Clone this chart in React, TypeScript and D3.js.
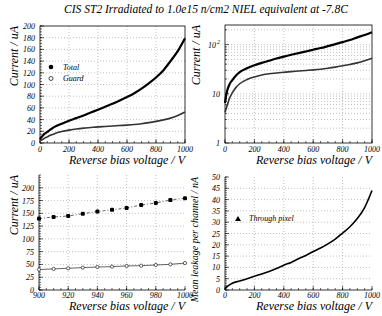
import React from "react";
import * as d3 from "d3";

const TITLE = "CIS ST2 Irradiated to 1.0e15 n/cm2 NIEL equivalent at -7.8C";
const X_TITLE = "Reverse bias voltage / V";

// Full-range scan
const voltages = [0, 10, 20, 30, 50, 75, 100, 150, 200, 250, 300, 350, 400, 450, 500, 550, 600, 650, 700, 750, 800, 850, 900, 950, 1000];
const totalCurrent = [6.5, 10, 13, 15.5, 19, 23.5, 27.5, 33, 38, 42.5, 47, 52, 57, 62, 67, 72.5, 78.5, 85, 93, 102, 112, 124, 140, 157, 179];
const guardCurrent = [4.2, 5.2, 6.5, 8, 10.5, 13.5, 16, 19.5, 22, 24, 25.5, 26.5, 27.5, 28.2, 29, 29.8, 30.6, 31.6, 33, 34.8, 37, 39.5, 42.5, 47, 53];

// Zoom 900-1000 V
const zoomVoltages = [900, 910, 920, 930, 940, 950, 960, 970, 980, 990, 1000];
const zoomTotal = [139.7, 142.9, 144.8, 149.2, 153.7, 156.8, 160.6, 166.3, 170.2, 175.9, 179.7];
const zoomGuard = [40, 41.3, 42.5, 43.8, 45, 45.7, 47, 47.6, 48.9, 50.2, 52.7];

// Mean leakage per channel (nA)
const pixelVoltages = [0, 25, 50, 100, 150, 200, 250, 300, 350, 400, 450, 500, 550, 600, 650, 700, 750, 800, 850, 900, 950, 1000];
const pixelLeakage = [0.5, 2, 3, 4, 5, 6.1, 7.1, 8.2, 9.5, 11, 12.2, 13.8, 15.3, 17, 18.6, 20.4, 22.5, 25.2, 28, 31.6, 36.5, 44];

const ticksFull = [0, 200, 400, 600, 800, 1000];
const ticksZoom = [900, 920, 940, 960, 980, 1000];
const yTicks1 = [0, 20, 40, 60, 80, 100, 120, 140, 160, 180, 200];
const yTicks3 = [0, 25, 50, 75, 100, 125, 150, 175, 200];
const yTicks4 = [0, 5, 10, 15, 20, 25, 30, 35, 40, 45, 50];

const FONT = "'Liberation Serif', 'DejaVu Serif', serif";
const GRID = "#999";

type Box = { x0: number; x1: number; y0: number; y1: number };

function Frame({ b, full }: { b: Box; full: boolean }) {
  return full ? (
    <rect x={b.x0} y={b.y0} width={b.x1 - b.x0} height={b.y1 - b.y0} fill="none" stroke="#000" strokeWidth={0.8} />
  ) : (
    <path d={`M${b.x0},${b.y0}V${b.y1}H${b.x1}`} fill="none" stroke="#000" strokeWidth={0.8} />
  );
}

function XAxis({ b, x, ticks, minor, labelDy, titleDy }: { b: Box; x: any; ticks: number[]; minor: number[]; labelDy: number; titleDy: number }) {
  return (
    <g>
      {ticks.slice(1, -1).map((t) => (
        <line key={"g" + t} x1={x(t)} x2={x(t)} y1={b.y0} y2={b.y1} stroke={GRID} strokeWidth={0.6} strokeDasharray="1,2" />
      ))}
      {minor.map((t) => (
        <line key={"m" + t} x1={x(t)} x2={x(t)} y1={b.y1} y2={b.y1 - 2} stroke="#000" strokeWidth={0.6} />
      ))}
      {ticks.map((t) => (
        <line key={"t" + t} x1={x(t)} x2={x(t)} y1={b.y1} y2={b.y1 - 4} stroke="#000" strokeWidth={0.6} />
      ))}
      {ticks.map((t) => (
        <text key={"l" + t} x={x(t)} y={b.y1 + labelDy} fontSize={8} fontStyle="italic" fontFamily={FONT} textAnchor="middle">
          {t}
        </text>
      ))}
      <text x={b.x1} y={b.y1 + titleDy} fontSize={12} fontStyle="italic" fontFamily={FONT} textAnchor="end">
        {X_TITLE}
      </text>
    </g>
  );
}

function YAxisLin({ b, y, ticks, minorStep, title, titleX, titleSize }: { b: Box; y: any; ticks: number[]; minorStep: number; title: string; titleX: number; titleSize: number }) {
  const dom = y.domain();
  const minor = d3.range(dom[0], dom[1] + 1e-9, minorStep);
  return (
    <g>
      {ticks.filter((t) => t > dom[0] && t < dom[1]).map((t) => (
        <line key={"g" + t} x1={b.x0} x2={b.x1} y1={y(t)} y2={y(t)} stroke={GRID} strokeWidth={0.6} strokeDasharray="1,2" />
      ))}
      {minor.map((t) => (
        <line key={"m" + t} x1={b.x0} x2={b.x0 + 2} y1={y(t)} y2={y(t)} stroke="#000" strokeWidth={0.6} />
      ))}
      {ticks.map((t) => (
        <line key={"t" + t} x1={b.x0} x2={b.x0 + 4} y1={y(t)} y2={y(t)} stroke="#000" strokeWidth={0.6} />
      ))}
      {ticks.map((t) => (
        <text key={"l" + t} x={b.x0 - 5} y={y(t) + 3} fontSize={8} fontStyle="italic" fontFamily={FONT} textAnchor="end">
          {t}
        </text>
      ))}
      <text transform={`translate(${titleX},${b.y0}) rotate(-90)`} fontSize={titleSize} fontStyle="italic" fontFamily={FONT} textAnchor="end">
        {title}
      </text>
    </g>
  );
}

export default function App() {
  const W = 382, H = 316;

  // Panel 1
  const b1: Box = { x0: 40, x1: 185, y0: 26, y1: 143 };
  const x1 = d3.scaleLinear().domain([0, 1000]).range([b1.x0, b1.x1]);
  const y1 = d3.scaleLinear().domain([0, 200]).range([b1.y1, b1.y0]);
  const line1 = (ys: number[]) =>
    d3.line<number>().x((_, i) => x1(voltages[i])).y((v) => y1(v)).curve(d3.curveMonotoneX)(ys) || "";

  // Panel 2
  const b2: Box = { x0: 225, x1: 372, y0: 25, y1: 143 };
  const x2 = d3.scaleLinear().domain([0, 1000]).range([b2.x0, b2.x1]);
  const y2 = d3.scaleLog().domain([1, 250]).range([b2.y1, b2.y0]);
  const line2 = (ys: number[]) =>
    d3.line<number>().x((_, i) => x2(voltages[i])).y((v) => y2(v)).curve(d3.curveMonotoneX)(ys) || "";
  const logMinor: number[] = [];
  [1, 10, 100].forEach((d) => {
    for (let k = 1; k <= 9; k++) if (d * k <= 250) logMinor.push(d * k);
  });
  const uniq = Array.from(new Set(logMinor)).sort((a, b) => a - b);

  // Panel 3
  const b3: Box = { x0: 39, x1: 185, y0: 175, y1: 290 };
  const x3 = d3.scaleLinear().domain([900, 1000]).range([b3.x0, b3.x1]);
  const y3 = d3.scaleLinear().domain([0, 225]).range([b3.y1, b3.y0]);
  const line3 = (ys: number[]) =>
    d3.line<number>().x((_, i) => x3(zoomVoltages[i])).y((v) => y3(v))(ys) || "";

  // Panel 4
  const b4: Box = { x0: 225, x1: 372, y0: 177, y1: 290 };
  const x4 = d3.scaleLinear().domain([0, 1000]).range([b4.x0, b4.x1]);
  const y4 = d3.scaleLinear().domain([0, 50]).range([b4.y1, b4.y0]);
  const line4 =
    d3.line<number>().x((_, i) => x4(pixelVoltages[i])).y((v) => y4(v)).curve(d3.curveMonotoneX)(pixelLeakage) || "";

  const minorFull = d3.range(0, 1001, 50);
  const minorZoom = d3.range(900, 1001, 5);

  return (
    <svg width={W} height={H} style={{ position: "absolute", left: 0, top: 0, background: "#fff" }}>
      <rect width={W} height={H} fill="#fff" />
      <text x={206} y={13} fontSize={11.5} fontStyle="italic" fontFamily={FONT} textAnchor="middle">
        {TITLE}
      </text>

      {/* Panel 1 */}
      <g>
        <XAxis b={b1} x={x1} ticks={ticksFull} minor={minorFull} labelDy={9} titleDy={21} />
        <YAxisLin b={b1} y={y1} ticks={yTicks1} minorStep={5} title="Current / uA" titleX={18} titleSize={12} />
        <Frame b={b1} full={true} />
        <path d={line1(guardCurrent)} fill="none" stroke="#333" strokeWidth={1.6} />
        <path d={line1(totalCurrent)} fill="none" stroke="#000" strokeWidth={2.2} />
        <circle cx={51} cy={67} r={2.3} fill="#000" />
        <text x={63} y={70} fontSize={8} fontStyle="italic" fontFamily={FONT}>Total</text>
        <circle cx={51} cy={78.5} r={2} fill="#fff" stroke="#000" strokeWidth={0.7} />
        <text x={63} y={81} fontSize={8} fontStyle="italic" fontFamily={FONT}>Guard</text>
      </g>

      {/* Panel 2 */}
      <g>
        <XAxis b={b2} x={x2} ticks={ticksFull} minor={minorFull} labelDy={9} titleDy={21} />
        {uniq.filter((t) => t > 1 && t < 250).map((t) => (
          <line key={"lg" + t} x1={b2.x0} x2={b2.x1} y1={y2(t)} y2={y2(t)} stroke={GRID} strokeWidth={0.6} strokeDasharray="1,2" />
        ))}
        {uniq.map((t) => {
          const major = t === 1 || t === 10 || t === 100;
          return (
            <line key={"lt" + t} x1={b2.x0} x2={b2.x0 + (major ? 4 : 2)} y1={y2(t)} y2={y2(t)} stroke="#000" strokeWidth={0.6} />
          );
        })}
        <text x={b2.x0 - 5} y={y2(1) + 3} fontSize={8} fontStyle="italic" fontFamily={FONT} textAnchor="end">1</text>
        <text x={b2.x0 - 5} y={y2(10) + 3} fontSize={8} fontStyle="italic" fontFamily={FONT} textAnchor="end">10</text>
        <text x={b2.x0 - 9} y={y2(100) + 3} fontSize={8} fontStyle="italic" fontFamily={FONT} textAnchor="end">10</text>
        <text x={b2.x0 - 5} y={y2(100) - 1} fontSize={6} fontStyle="italic" fontFamily={FONT} textAnchor="end">2</text>
        <text transform={`translate(200,${b2.y0}) rotate(-90)`} fontSize={12} fontStyle="italic" fontFamily={FONT} textAnchor="end">
          Current / uA
        </text>
        <Frame b={b2} full={true} />
        <path d={line2(guardCurrent)} fill="none" stroke="#333" strokeWidth={1.6} />
        <path d={line2(totalCurrent)} fill="none" stroke="#000" strokeWidth={2.2} />
      </g>

      {/* Panel 3 */}
      <g>
        <XAxis b={b3} x={x3} ticks={ticksZoom} minor={minorZoom} labelDy={8} titleDy={20} />
        <YAxisLin b={b3} y={y3} ticks={yTicks3} minorStep={5} title="Current / uA" titleX={18} titleSize={12} />
        <Frame b={b3} full={false} />
        <path d={line3(zoomTotal)} fill="none" stroke="#000" strokeWidth={0.6} strokeDasharray="3,2,1,2" />
        <path d={line3(zoomGuard)} fill="none" stroke="#000" strokeWidth={0.6} />
        {zoomTotal.map((v, i) => (
          <rect key={"zt" + i} x={x3(zoomVoltages[i]) - 2} y={y3(v) - 2} width={4} height={4} rx={1.2} fill="#000" />
        ))}
        {zoomGuard.map((v, i) => (
          <circle key={"zg" + i} cx={x3(zoomVoltages[i])} cy={y3(v)} r={1.6} fill="#fff" stroke="#000" strokeWidth={0.6} />
        ))}
      </g>

      {/* Panel 4 */}
      <g>
        <XAxis b={b4} x={x4} ticks={ticksFull} minor={minorFull} labelDy={8} titleDy={20} />
        <YAxisLin b={b4} y={y4} ticks={yTicks4} minorStep={1} title="Mean leakage per channel / nA" titleX={198} titleSize={10} />
        <Frame b={b4} full={false} />
        <path d={line4} fill="none" stroke="#000" strokeWidth={1.6} />
        <path d="M238,216 l-3,5 h6 z" fill="#000" />
        <text x={249} y={221} fontSize={8} fontStyle="italic" fontFamily={FONT}>Through pixel</text>
      </g>
    </svg>
  );
}
